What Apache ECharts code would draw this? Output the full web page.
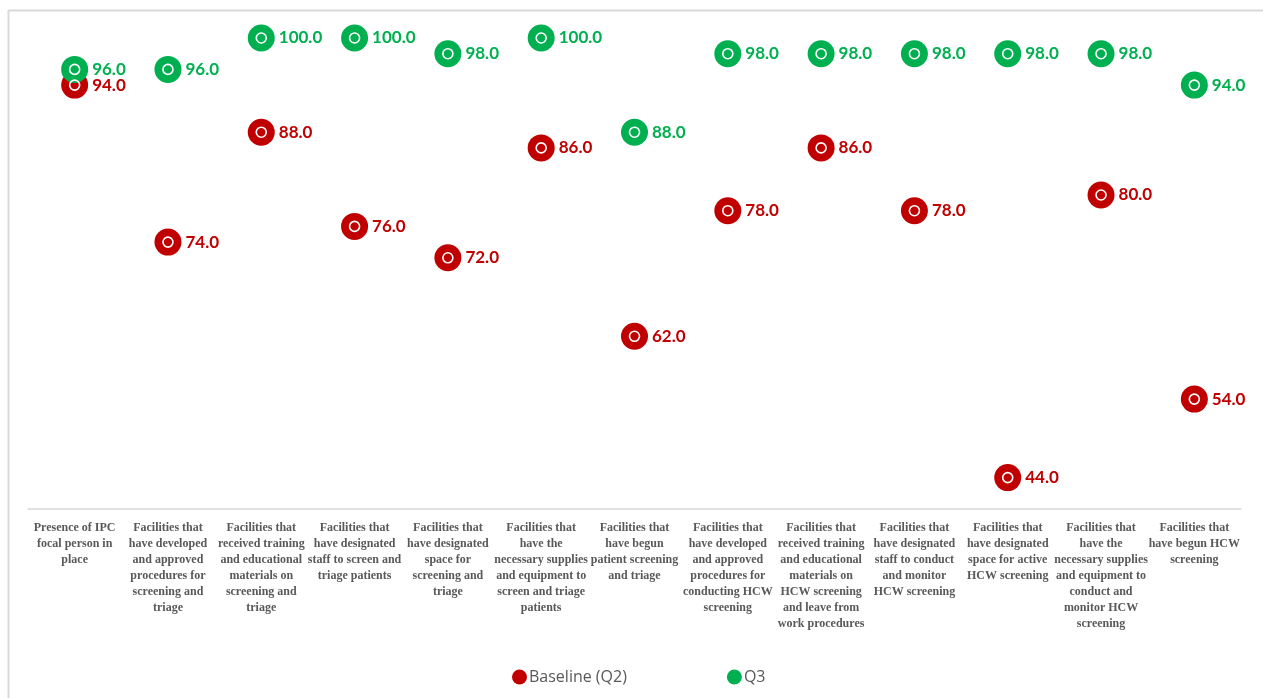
<!DOCTYPE html>
<html>
<head>
<meta charset="utf-8">
<script src="https://cdn.jsdelivr.net/npm/echarts@6/dist/echarts.min.js"></script>
<style>
  html, body { margin: 0; padding: 0; background: #fff; }
  #chart { width: 1263px; height: 698px; }
</style>
</head>
<body>
<div id="chart"></div>
<script>
// Indicator categories (axis labels, broken into lines as printed)
const categories = [
  'Presence of IPC\nfocal person in\nplace',
  'Facilities that\nhave developed\nand approved\nprocedures for\nscreening and\ntriage',
  'Facilities that\nreceived training\nand educational\nmaterials on\nscreening and\ntriage',
  'Facilities that\nhave designated\nstaff to screen and\ntriage patients',
  'Facilities that\nhave designated\nspace for\nscreening and\ntriage',
  'Facilities that\nhave the\nnecessary supplies\nand equipment to\nscreen and triage\npatients',
  'Facilities that\nhave begun\npatient screening\nand triage',
  'Facilities that\nhave developed\nand approved\nprocedures for\nconducting HCW\nscreening',
  'Facilities that\nreceived training\nand educational\nmaterials on\nHCW screening\nand leave from\nwork procedures',
  'Facilities that\nhave designated\nstaff to conduct\nand monitor\nHCW screening',
  'Facilities that\nhave designated\nspace for active\nHCW screening',
  'Facilities that\nhave the\nnecessary supplies\nand equipment to\nconduct and\nmonitor HCW\nscreening',
  'Facilities that\nhave begun HCW\nscreening'
];

// Percent of facilities
const baselineQ2 = [94, 74, 88, 76, 72, 86, 62, 78, 86, 78, 44, 80, 54];
const q3 = [96, 96, 100, 100, 98, 100, 88, 98, 98, 98, 98, 98, 94];

const RED = '#C00000';
const GREEN = '#00B050';

function dotSeries(name, data, color) {
  return {
    name: name,
    type: 'scatter',
    data: data,
    symbol: 'circle',
    symbolSize: 27,
    itemStyle: { color: color, opacity: 1 },
    label: {
      show: true,
      position: 'right',
      distance: 4,
      formatter: p => p.value.toFixed(1),
      color: color,
      fontFamily: 'Lato, "Open Sans", sans-serif',
      fontWeight: 'bold',
      fontSize: 17
    },
    emphasis: { disabled: true },
    z: 3
  };
}

// White inner ring drawn on top of each dot
function ringSeries(data) {
  return {
    type: 'scatter',
    data: data,
    symbol: 'circle',
    symbolSize: 10,
    itemStyle: { color: 'rgba(0,0,0,0)', borderColor: '#fff', borderWidth: 1.6, opacity: 1 },
    silent: true,
    emphasis: { disabled: true },
    z: 4
  };
}

const chart = echarts.init(document.getElementById('chart'), null, { renderer: 'canvas' });

chart.setOption({
  animation: false,
  backgroundColor: '#fff',
  grid: { left: 28, right: 22, top: 38, bottom: 189, containLabel: false },
  graphic: [
    { type: 'line', shape: { x1: 8, y1: 10.5, x2: 1263, y2: 10.5 }, style: { stroke: '#d9d9d9', lineWidth: 2 } },
    { type: 'line', shape: { x1: 8.5, y1: 10, x2: 8.5, y2: 698 }, style: { stroke: '#d9d9d9', lineWidth: 2 } }
  ],
  legend: {
    data: ['Baseline (Q2)', 'Q3'],
    left: 507,
    top: 664,
    icon: 'circle',
    itemWidth: 15,
    itemHeight: 15,
    itemGap: 100,
    textStyle: { color: '#595959', fontSize: 16, fontFamily: '"Open Sans", sans-serif', padding: [0, 0, 0, -3] }
  },
  xAxis: {
    type: 'category',
    data: categories,
    axisLine: { show: true, lineStyle: { color: '#d9d9d9', width: 1.5 } },
    axisTick: { show: false },
    axisLabel: {
      interval: 0,
      margin: 11,
      color: '#595959',
      fontFamily: '"Liberation Serif", "DejaVu Serif", serif',
      fontWeight: 'bold',
      fontSize: 12,
      lineHeight: 16
    },
    splitLine: { show: false }
  },
  yAxis: {
    type: 'value',
    min: 40,
    max: 100,
    show: false,
    splitLine: { show: false }
  },
  series: [
    dotSeries('Baseline (Q2)', baselineQ2, RED),
    ringSeries(baselineQ2),
    dotSeries('Q3', q3, GREEN),
    ringSeries(q3)
  ]
});
</script>
</body>
</html>
